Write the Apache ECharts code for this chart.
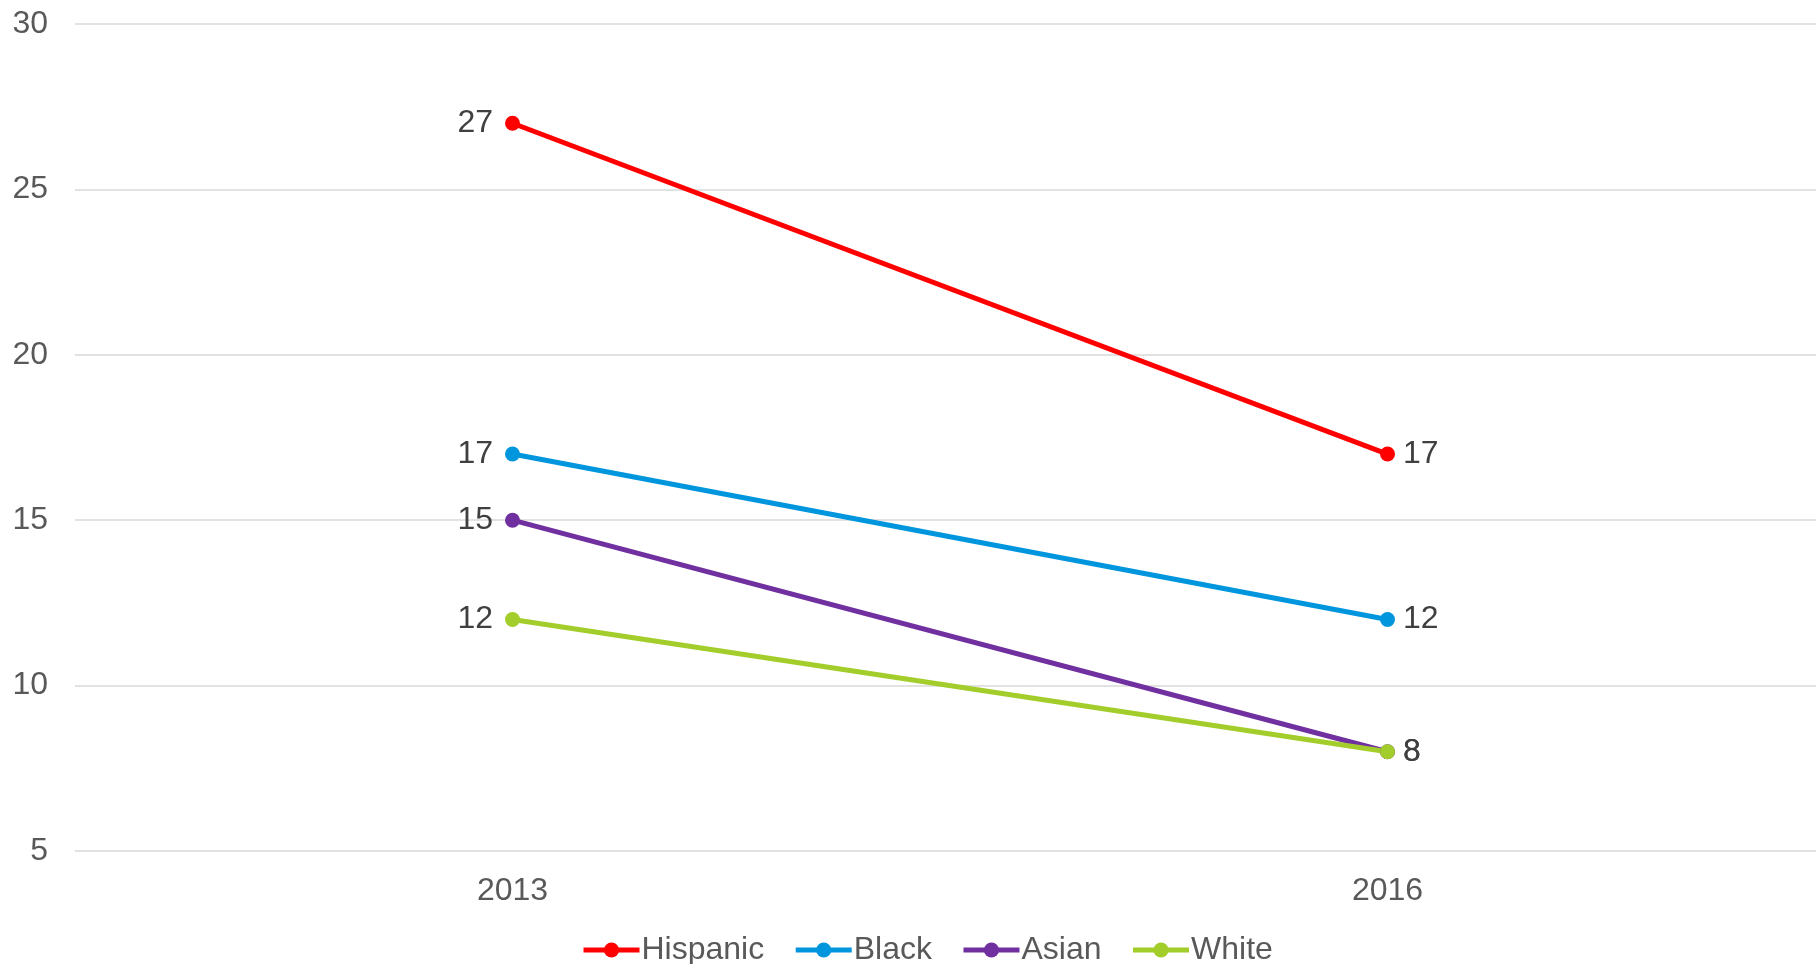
<!DOCTYPE html>
<html>
<head>
<meta charset="utf-8">
<script src="https://cdn.jsdelivr.net/npm/echarts@6/dist/echarts.min.js"></script>
<style>
  html, body { margin: 0; padding: 0; background: #fff; }
  #myDiv { width: 1816px; height: 964px; }
</style>
</head>
<body>
<div id="myDiv"></div>
<script>
// data
const years = ['2013', '2016'];
const hispanic = [27, 17];
const black = [17, 12];
const asian = [15, 8];
const white = [12, 8];

const seriesNames = ['Hispanic', 'Black', 'Asian', 'White'];
const seriesData = [hispanic, black, asian, white];
const colors = ['#FF0000', '#0096DE', '#7030A0', '#A3CD2B'];

let myChart = echarts.init(document.getElementById('myDiv'));
const font = 'Liberation Sans, Arial, sans-serif';

// first point label on the left, last on the right
function withLabels(arr) {
  return arr.map(function (v, i) {
    return {
      value: v,
      label: { position: i === 0 ? 'left' : 'right' }
    };
  });
}

let option = {
  animation: false,
  color: colors,
  grid: { left: 75, width: 1750, top: 24, bottom: 113, outerBoundsMode: 'none', containLabel: false },
  legend: {
    data: seriesNames,
    top: 929,
    left: 576,
    itemWidth: 56,
    itemHeight: 19,
    itemGap: 29,
    lineStyle: { width: 5 },
    textStyle: { fontFamily: font, fontSize: 32, color: '#595959', padding: [0, 0, 0, -3] }
  },
  xAxis: {
    type: 'category',
    data: years,
    axisLine: { show: false },
    axisTick: { show: false },
    axisLabel: { fontFamily: font, fontSize: 32, color: '#595959', margin: 24 }
  },
  yAxis: {
    type: 'value',
    min: 5,
    max: 30,
    interval: 5,
    axisLine: { show: false },
    axisTick: { show: false },
    axisLabel: { fontFamily: font, fontSize: 32, color: '#595959', margin: 27 },
    splitLine: { lineStyle: { color: '#D9D9D9', width: 1.5 } }
  },
  series: seriesNames.map(function (name, k) {
    return {
      name: name,
      type: 'line',
      data: withLabels(seriesData[k]),
      symbol: 'circle',
      symbolSize: 15,
      lineStyle: { width: 5 },
      label: {
        show: true,
        distance: 10,
        offset: [-2, 0],
        fontFamily: font,
        fontSize: 32,
        color: '#404040'
      }
    };
  })
};

option && myChart.setOption(option);
</script>
</body>
</html>
